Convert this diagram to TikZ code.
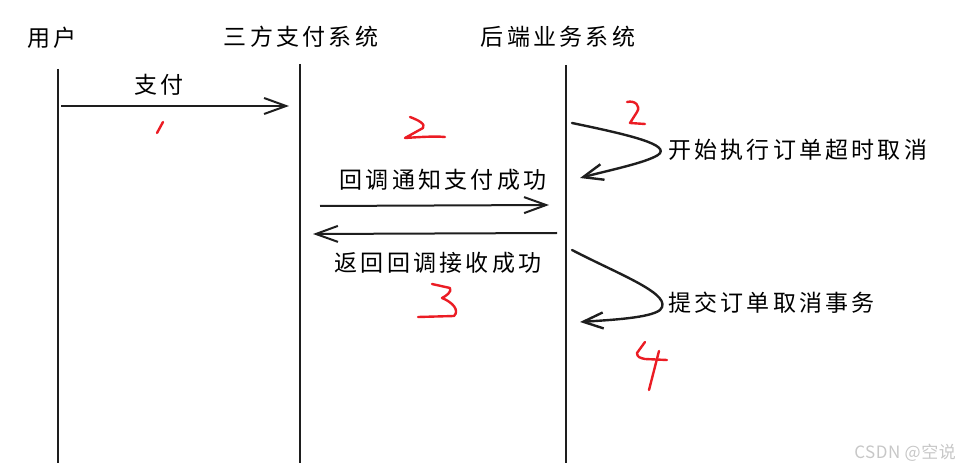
\documentclass[tikz,border=0pt]{standalone}
\usepackage{fontspec}
\newfontfamily\cjk[LetterSpace=14]{Noto Sans CJK SC}
\newfontfamily\cjkplain[LetterSpace=3]{Noto Sans CJK SC}
\usetikzlibrary{arrows.meta}
\definecolor{penred}{RGB}{235,28,36}
\definecolor{inkgray}{RGB}{30,30,30}

\begin{document}
\begin{tikzpicture}[x=1pt,y=-1pt,
  actor/.style={font=\cjk\fontsize{23}{26}\selectfont,inner sep=0pt},
  msg/.style={font=\cjk\fontsize{23}{26}\selectfont,inner sep=0pt},
  life/.style={line width=2.8pt,draw=inkgray},
  call/.style={-{Straight Barb[length=22pt,width=16pt]},line width=2pt,draw=inkgray},
  loopback/.style={-{Straight Barb[length=20pt,width=16pt]},line width=2.4pt,
    draw=inkgray,line cap=round},
  digit/.style={draw=penred,line width=2.4pt,line cap=round,line join=round}]
\useasboundingbox (0,0) rectangle (959,470);
% actors and lifelines
\node[actor] (user) at (52,38) {用户};
\node[actor] (pay) at (301,37) {三方支付系统};
\node[actor] (biz) at (558,37) {后端业务系统};
\coordinate (usertop) at (58,69);
\coordinate (userbot) at (58,463);
\coordinate (paytop) at (300,64);
\coordinate (paybot) at (300,463);
\coordinate (biztop) at (566,65);
\coordinate (bizbot) at (566,463);
\draw[life] (usertop)--(userbot);
\draw[life] (paytop)--(paybot);
\draw[life] (biztop)--(bizbot);
% messages
\coordinate (payfrom) at (61,106);
\coordinate (payto) at (289,106);
\draw[call] (payfrom)--(payto);
\node[msg] (paylbl) at (159,85) {支付};
\coordinate (notifyfrom) at (320,206);
\coordinate (notifyto) at (549,205);
\draw[call] (notifyfrom)--(notifyto);
\node[msg] (notifylbl) at (443,180) {回调通知支付成功};
\coordinate (ackfrom) at (557,233);
\coordinate (ackto) at (313,234);
\draw[call] (ackfrom)--(ackto);
\node[msg] (acklbl) at (438,263) {返回回调接收成功};
% self calls on the backend
\coordinate (timeoutfrom) at (572,123);
\coordinate (timeoutto) at (580,178);
\draw[loopback] (timeoutfrom) .. controls (630,135) and (672,145) .. (658,155)
  .. controls (645,163) and (610,170) .. (timeoutto);
\node[msg,anchor=west] (timeoutlbl) at (668,150) {开始执行订单超时取消};
\coordinate (commitfrom) at (572,250);
\coordinate (committo) at (580,322);
\draw[loopback] (commitfrom) .. controls (620,275) and (675,295) .. (660,310)
  .. controls (650,318) and (610,320) .. (committo);
\node[msg,anchor=west] (commitlbl) at (668,303) {提交订单取消事务};
% red step numbers
\draw[digit] (157,133)--(163,122);
\draw[digit] (410,117) .. controls (418,120) and (426,124) .. (423,128)
  -- (405,138) .. controls (420,137) and (435,136) .. (445,137);
\draw[digit] (627,102) .. controls (635,100) and (641,106) .. (637,112)
  -- (630,123) -- (645,124);
\draw[digit] (432,284) -- (450,288) .. controls (452,292) and (446,296) .. (442,298)
  .. controls (452,302) and (460,310) .. (454,316) -- (418,317);
\draw[digit] (645,342) -- (637,353) .. controls (637,357) and (640,358) .. (645,359)
  -- (667,360);
\draw[digit] (659,351) -- (649,390);
% watermark
\node[font=\cjkplain\fontsize{17}{19}\selectfont,text=black!22,anchor=east,
  inner sep=0pt] (mark) at (956,453) {CSDN @空说};
\end{tikzpicture}
\end{document}
